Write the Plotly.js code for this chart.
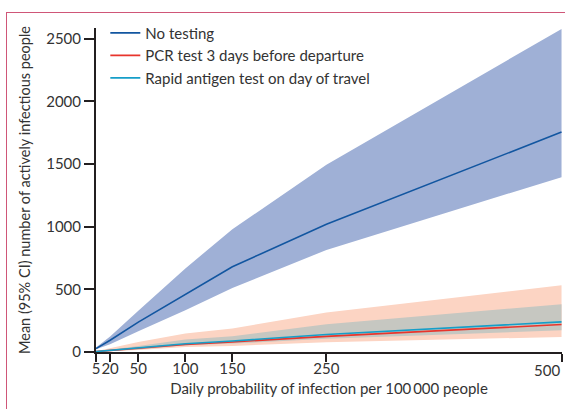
<!DOCTYPE html>
<html>
<head>
<meta charset="utf-8">
<script src="https://cdn.plot.ly/plotly-3.0.1.min.js"></script>
<style>
  html, body { margin: 0; padding: 0; background: #fff; }
  #wrap { position: relative; width: 565px; height: 409px; overflow: hidden; }
  #frame { position: absolute; left: 6px; top: 12px; width: 620px; height: 460px;
           border: 1.5px solid #cf5678; box-sizing: border-box; pointer-events: none; }
  #chart { position: absolute; left: 0; top: 0; width: 565px; height: 409px; }
</style>
</head>
<body>
<div id="wrap">
  <div id="frame"></div>
  <div id="chart"></div>
</div>
<script>
// Daily probability of infection per 100 000 people
const xVals = [5, 20, 50, 100, 150, 250, 500];

// No testing
const noTestMean  = [27, 94, 238, 461, 680, 1019, 1755];
const noTestUpper = [35, 123, 329, 667, 979, 1494, 2578];
const noTestLower = [22, 62, 165, 334, 510, 814, 1395];

// PCR test 3 days before departure
const pcrMean  = [3, 12, 30, 60, 80, 125, 219];
const pcrUpper = [6, 30, 80, 147, 187, 315, 532];
const pcrLower = [1, 6, 15, 40, 48, 78, 120];

// Rapid antigen test on day of travel
const ratMean  = [3, 13, 33, 66, 88, 140, 240];
const ratUpper = [4, 18, 48, 99, 126, 222, 381];
const ratLower = [2, 8, 19, 54, 67, 105, 173];

const xTicks = [5, 20, 50, 100, 150, 250, 500];
const xTickText = ['5', '20', '50', '100', '150', '250', '500'];
const yTicks = [0, 500, 1000, 1500, 2000, 2500];

const names = ['No testing', 'PCR test 3 days before departure', 'Rapid antigen test on day of travel'];

function band(upper, lower, color) {
  return [
    {x: xVals, y: upper, type: 'scatter', mode: 'lines', line: {width: 0, color: color},
     showlegend: false, hoverinfo: 'skip'},
    {x: xVals, y: lower, type: 'scatter', mode: 'lines', line: {width: 0, color: color},
     fill: 'tonexty', fillcolor: color, showlegend: false, hoverinfo: 'skip'}
  ];
}

const traces = [
  ...band(noTestUpper, noTestLower, '#9fb0d6'),
  ...band(pcrUpper, pcrLower, '#fcd4c3'),
  ...band(ratUpper, ratLower, '#c6c7c1'),
  {x: xVals, y: noTestMean, type: 'scatter', mode: 'lines', name: names[0],
   line: {color: '#1256a0', width: 1.6}},
  {x: xVals, y: pcrMean, type: 'scatter', mode: 'lines', name: names[1],
   line: {color: '#e8352c', width: 1.6}},
  {x: xVals, y: ratMean, type: 'scatter', mode: 'lines', name: names[2],
   line: {color: '#169ec8', width: 1.6}}
];

// The last tick label sits right-aligned at the axis end (it would be cut off if centred)
const lastIdx = xTicks.length - 1;
const shownTickText = xTickText.map((t, i) => i === lastIdx ? '' : t);

const fontFam = 'Lato, "Open Sans", sans-serif';
const layout = {
  width: 565, height: 409,
  margin: {l: 96, r: 3, t: 28, b: 57},
  paper_bgcolor: 'rgba(0,0,0,0)',
  plot_bgcolor: 'rgba(0,0,0,0)',
  font: {family: fontFam, size: 15, color: '#333'},
  showlegend: true,
  legend: {x: 0.02, y: 1.035, xanchor: 'left', yanchor: 'top', traceorder: 'normal',
           bgcolor: 'rgba(0,0,0,0)', font: {size: 15, color: '#333'},
           tracegroupgap: 0, itemwidth: 30},
  xaxis: {
    range: [5, 500.5], showgrid: false, zeroline: false,
    showline: true, linecolor: '#231f20', linewidth: 2,
    ticks: 'outside', ticklen: 8, tickwidth: 2, tickcolor: '#231f20',
    tickvals: xTicks, ticktext: shownTickText, tickangle: 0,
    ticklabelstandoff: -6,
    tickfont: {size: 15, color: '#333'},
    title: {text: 'Daily probability of infection per 100\u2009000 people',
            font: {size: 15, color: '#333'}, standoff: 7}
  },
  yaxis: {
    range: [0, 2585], showgrid: false, zeroline: false,
    showline: true, linecolor: '#231f20', linewidth: 2,
    ticks: 'outside', ticklen: 10, tickwidth: 2, tickcolor: '#231f20',
    tickvals: yTicks,
    tickfont: {size: 15, color: '#333'},
    title: {text: 'Mean (95% CI) number of actively infectious people',
            font: {size: 14.5, color: '#333'}, standoff: 12}
  },
  annotations: [{
    x: xTicks[lastIdx], xref: 'x', xanchor: 'right',
    y: 0, yref: 'paper', yanchor: 'middle', yshift: -18,
    text: xTickText[lastIdx], showarrow: false,
    font: {size: 15, color: '#333', family: fontFam}
  }]
};

Plotly.newPlot('chart', traces, layout, {displayModeBar: false, staticPlot: true});
</script>
</body>
</html>
